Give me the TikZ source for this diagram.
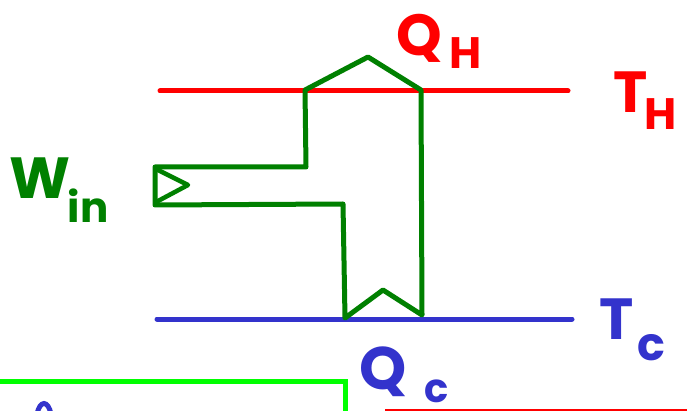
\documentclass[tikz,border=0pt]{standalone}
\usepackage{fontspec}
\setmainfont{Poppins}
\definecolor{hred}{RGB}{255,0,0}
\definecolor{cblue}{RGB}{51,51,204}
\definecolor{dgreen}{RGB}{0,128,0}
\definecolor{lgreen}{RGB}{0,255,0}
\begin{document}
\begin{tikzpicture}[x=1pt,y=-1pt,
  stroke/.style={line width=5pt,line cap=round,line join=round},
  lbl/.style={inner sep=0pt,anchor=center}]
\useasboundingbox (0,0) rectangle (687,411);
% reservoirs
\coordinate (th1) at (160,91);
\coordinate (th2) at (568,91);
\coordinate (tc1) at (157,319);
\coordinate (tc2) at (572,319);
\draw[stroke,hred] (th1) -- (th2);
\draw[stroke,cblue] (tc1) -- (tc2);
% green engine path
\draw[stroke,dgreen] (305,90) -- (306,167) -- (155,167) -- (155,205) -- (343,204)
  -- (345,318) -- (383,290) -- (422,315) -- (421,90) -- (368,57) -- cycle;
\draw[stroke,dgreen,line width=4.5pt] (158,170) -- (188,185) -- (158,201);
% labels
\node[lbl,text=hred,font=\fontsize{58}{58}\bfseries] (qh) at (419,38) {Q};
\node[lbl,text=hred,font=\fontsize{44}{44}\bfseries] (qhs) at (466,53) {H};
\node[lbl,text=hred,font=\fontsize{58}{58}\bfseries] (tT) at (631,92) {T};
\node[lbl,text=hred,font=\fontsize{44}{44}\bfseries] (tH) at (661,114) {H};
\node[lbl,text=dgreen,font=\fontsize{58}{58}\bfseries] (w) at (40,178) {W};
\node[lbl,text=dgreen,font=\fontsize{42}{42}\bfseries] (win) at (88,206) {in};
\node[lbl,text=cblue,font=\fontsize{58}{58}\bfseries] (cT) at (617,319) {T};
\node[lbl,text=cblue,font=\fontsize{46}{46}\bfseries] (cc) at (651,348) {c};
\node[lbl,text=cblue,font=\fontsize{60}{60}\bfseries] (qc) at (383,372) {Q};
\node[inner sep=0pt,anchor=base,text=cblue,font=\fontsize{40}{40}\bfseries] (qcs) at (437,402) {c};
% bottom partial content
\coordinate (g1) at (0,381);
\coordinate (g2) at (345,381);
\coordinate (g3) at (345,414);
\draw[line width=5pt,lgreen,line join=miter] (g1) -- (g2) -- (g3);
\coordinate (r1) at (385,411);
\coordinate (r2) at (690,411);
\draw[line width=5pt,hred] (r1) -- (r2);
\draw[line width=5pt,cblue,line cap=round] (37,414) .. controls (40,400) and (48,400) .. (51,414);
\end{tikzpicture}
\end{document}
